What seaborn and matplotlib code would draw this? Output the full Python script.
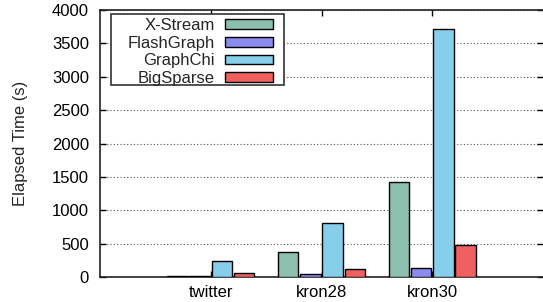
import numpy as np
import pandas as pd
import matplotlib
matplotlib.use("Agg")
import matplotlib.pyplot as plt
import seaborn as sns
from matplotlib.patches import Patch, Rectangle

datasets = ["twitter", "kron28", "kron30"]
systems = ["X-Stream", "FlashGraph", "GraphChi", "BigSparse"]
xstream = [20, 375, 1425]
flashgraph = [15, 40, 140]
graphchi = [235, 815, 3720]
bigsparse = [65, 125, 475]
colors = ["#8cbfb0", "#8c8cf0", "#87ceeb", "#f06060"]

rows = []
for name, vals in zip(systems, [xstream, flashgraph, graphchi, bigsparse]):
    for d, v in zip(datasets, vals):
        rows.append({"dataset": d, "system": name, "time": v})
df = pd.DataFrame(rows)

sns.set_style("ticks")
plt.rcParams["font.family"] = ["Liberation Sans", "DejaVu Sans"]
fs = 12

fig = plt.figure(figsize=(5.43, 3.02), dpi=100)
ax = fig.add_axes([100 / 543, 25 / 302, 443 / 543, 267 / 302])

sns.barplot(data=df, x="dataset", y="time", hue="system", order=datasets,
            hue_order=systems, palette=colors, width=0.8, gap=0.08,
            edgecolor="black", linewidth=1.0, saturation=1, legend=False, ax=ax,
            zorder=3)

ax.set_xlim(-1, 3)
ax.set_ylim(0, 4000)
ax.set_yticks(np.arange(0, 4001, 500))
ax.yaxis.grid(True, linestyle=(0, (1, 2)), color="#555555", linewidth=0.8)
ax.set_axisbelow(True)
ax.set_xlabel("")
ax.set_ylabel("Elapsed Time (s)", fontsize=fs, labelpad=17)
ax.tick_params(axis="both", direction="in", length=4, width=1, colors="black",
               labelsize=fs, top=True, right=True)
ax.tick_params(axis="x", pad=6)
ax.tick_params(axis="y", pad=8)
for s in ["left", "top", "bottom"]:
    ax.spines[s].set_linewidth(1.2)
    ax.spines[s].set_color("#222222")
ax.spines["right"].set_visible(False)

# legend box (gnuplot style, wide padding)
box = Rectangle((0.0248, 0.719), 0.3905, 0.266, transform=ax.transAxes,
                facecolor="white", edgecolor="#333333", linewidth=1.2, zorder=5)
ax.add_patch(box)

handles = [Patch(facecolor=c, edgecolor="black", linewidth=1.0) for c in colors]
leg = ax.legend(handles, systems, loc="upper right", bbox_to_anchor=(0.3905, 0.970),
                borderaxespad=0, borderpad=0, markerfirst=False, frameon=False,
                handlelength=2.85, handleheight=0.52, labelspacing=0.16,
                handletextpad=0.65, fontsize=fs)
leg.set_zorder(6)

fig.savefig("out.png", dpi=100)
